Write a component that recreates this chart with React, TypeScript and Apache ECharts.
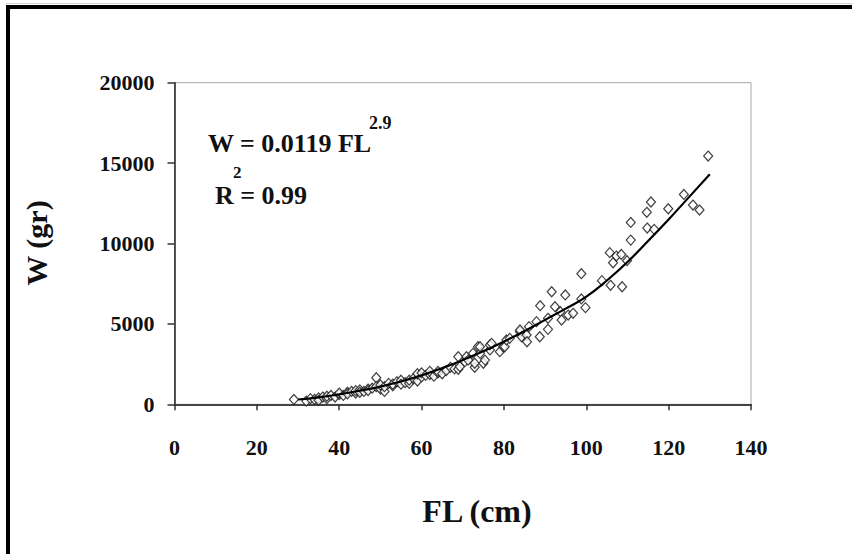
import React, { useEffect, useRef } from "react";
import * as echarts from "echarts";

// Scatter observations: fork length (cm) and weight (gr)
const obsFL = [
  29, 32, 33, 34, 35, 35, 36, 37, 37, 38, 39, 40, 40, 41, 42, 42, 43, 44, 44, 45,
  45, 46, 47, 47, 48, 49, 49, 50, 50, 51, 51, 52, 53, 53, 54, 55, 55, 56, 57, 57,
  58, 59, 59, 60, 60, 61, 62, 62, 63, 64, 64, 65, 66, 67, 68,
  68.9, 68.9, 69.3, 70.5, 70.9, 71.3, 72.5, 72.9, 72.9, 73.7, 74.2, 74.2, 75.0, 75.4,
  76.6, 76.6, 77.0, 79.0, 79.8, 80.2, 80.6, 81.4, 83.9, 83.9, 84.3, 85.5, 85.6, 86.1,
  87.9, 88.7, 88.8, 90.7, 90.7, 91.6, 92.4, 93.7, 94.0, 94.9, 95.6, 96.8, 98.8, 98.8,
  99.8, 103.8, 105.7, 105.9, 106.5, 107.3, 108.5, 108.7, 109.9, 110.8, 110.8, 114.7,
  114.8, 115.7, 116.5, 119.9, 123.7, 125.9, 127.5, 129.6,
];
const obsW = [
  300, 200, 350, 300, 400, 250, 450, 350, 500, 550, 450, 600, 700, 550, 750, 650, 800, 700, 850, 900,
  750, 800, 950, 850, 1000, 1650, 1100, 950, 1200, 800, 1100, 1300, 1150, 1250, 1400, 1500, 1250, 1350, 1300, 1500,
  1600, 1450, 1900, 1700, 1950, 1800, 1850, 2050, 1750, 1950, 2050, 1900, 2100, 2300, 2200,
  2960, 2180, 2340, 2650, 2960, 2750, 3170, 2300, 2550, 3580, 3170, 3580, 2550, 2750,
  3380, 3690, 3790, 3270, 3580, 3580, 4000, 4100, 4510, 4620, 4200, 4310, 3890, 4830,
  5140, 4200, 6130, 4660, 5350, 7000, 6070, 5760, 5240, 6800, 5550, 5660, 8120, 6550,
  6010, 7690, 9430, 7400, 8800, 9220, 9320, 7310, 8930, 11310, 10210, 11940,
  10960, 12580, 10880, 12160, 13050, 12390, 12080, 15440,
];

// Fitted curve
const fitFL = [30, 35, 40, 45, 50, 55, 60, 65, 70, 75, 80, 85, 90, 95, 100, 105, 110, 115, 120, 125, 130];
const fitW = [300, 430, 620, 850, 1100, 1420, 1800, 2250, 2750, 3300, 3900, 4550, 5250, 5950, 6700, 7700, 8850, 10150, 11500, 12900, 14300];

const xTicks = [0, 20, 40, 60, 80, 100, 120, 140];
const yTicks = [0, 5000, 10000, 15000, 20000];

const FONT = "'Liberation Serif', 'Times New Roman', serif";

export default function App() {
  const ref = useRef<HTMLDivElement>(null);
  useEffect(() => {
    if (!ref.current) return;
    const chart = echarts.init(ref.current, undefined, { renderer: "svg" });
    const scatterData = obsFL.map((x, i) => [x, obsW[i]]);
    const fitData = fitFL.map((x, i) => [x, fitW[i]]);
    const txt = (text: string, x: number, y: number, size: number, extra: any = {}) => ({
      type: "text",
      x,
      y,
      ...extra,
      style: {
        text,
        fontFamily: FONT,
        fontWeight: "bold",
        fontSize: size,
        fill: "#111",
        textAlign: extra.align || "left",
        textVerticalAlign: "middle",
      },
    });
    chart.setOption({
      animation: false,
      backgroundColor: "#fff",
      grid: {
        left: 174.5,
        top: 82.7,
        right: 101,
        bottom: 149.7,
        show: true,
        borderColor: "#a8a8a8",
        borderWidth: 1,
        backgroundColor: "#fff",
      },
      xAxis: {
        type: "value",
        min: xTicks[0],
        max: xTicks[xTicks.length - 1],
        interval: 20,
        axisLine: { show: true, lineStyle: { color: "#444", width: 2 } },
        axisTick: { show: true, inside: false, length: 6, lineStyle: { color: "#333", width: 1.5 } },
        splitLine: { show: false },
        axisLabel: {
          margin: 32,
          fontFamily: FONT,
          fontWeight: "bold",
          fontSize: 22,
          color: "#111",
          formatter: (v: number) => String(v),
        },
      },
      yAxis: {
        type: "value",
        min: yTicks[0],
        max: yTicks[yTicks.length - 1],
        interval: 5000,
        axisLine: { show: true, lineStyle: { color: "#222", width: 1.5 } },
        axisTick: { show: true, inside: false, length: 7, lineStyle: { color: "#333", width: 1.5 } },
        splitLine: { show: false },
        axisLabel: {
          margin: 20,
          fontFamily: FONT,
          fontWeight: "bold",
          fontSize: 22,
          color: "#111",
          formatter: (v: number) => String(v),
        },
      },
      series: [
        {
          type: "scatter",
          data: scatterData,
          symbol: "diamond",
          symbolSize: [9, 10],
          itemStyle: { color: "#fff", borderColor: "#111", borderWidth: 1.2 },
          z: 2,
        },
        {
          type: "line",
          data: fitData,
          smooth: true,
          showSymbol: false,
          lineStyle: { color: "#000", width: 2.2 },
          z: 3,
        },
      ],
      graphic: [
        { type: "rect", shape: { x: 6, y: 3, width: 846, height: 1 }, style: { fill: "#cfcfcf" } },
        { type: "rect", shape: { x: 6, y: 5, width: 846, height: 4 }, style: { fill: "#000" } },
        { type: "rect", shape: { x: 6, y: 5, width: 4, height: 549 }, style: { fill: "#000" } },
        txt("W (gr)", 36, 243, 30, { rotation: Math.PI / 2, align: "center" }),
        txt("FL (cm)", 477, 511, 32, { align: "center" }),
        txt("W = 0.0119 FL", 208, 143, 26),
        txt("2.9", 369, 123, 18),
        txt("R = 0.99", 215, 195, 26),
        txt("2", 233, 172, 17),
      ],
    });
    return () => chart.dispose();
  }, []);
  return (
    <div
      ref={ref}
      style={{ position: "fixed", left: 0, top: 0, width: 852, height: 554, background: "#fff" }}
    />
  );
}
